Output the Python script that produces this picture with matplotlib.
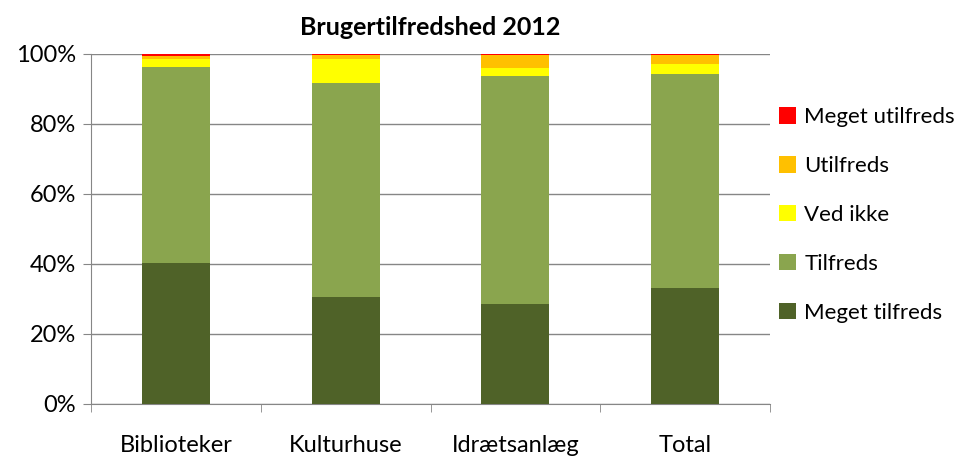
import numpy as np
import matplotlib.pyplot as plt
from matplotlib.ticker import PercentFormatter

categories = ["Biblioteker", "Kulturhuse", "Idrætsanlæg", "Total"]
meget_tilfreds = [40.3, 30.6, 28.6, 33.1]
tilfreds = [56.1, 61.0, 65.1, 61.3]
ved_ikke = [2.2, 6.9, 2.3, 2.7]
utilfreds = [0.9, 1.2, 3.7, 2.6]
meget_utilfreds = [0.5, 0.3, 0.3, 0.3]

series = [
    ("Meget tilfreds", meget_tilfreds, "#4F6228"),
    ("Tilfreds", tilfreds, "#8AA54E"),
    ("Ved ikke", ved_ikke, "#FFFF00"),
    ("Utilfreds", utilfreds, "#FFC000"),
    ("Meget utilfreds", meget_utilfreds, "#FF0000"),
]

plt.rcParams['font.family'] = ['Lato', 'DejaVu Sans']

fig = plt.figure(figsize=(9.74, 4.59), dpi=100)
ax = fig.add_axes([91 / 974, 55 / 459, 679 / 974, 350 / 459])

x = np.arange(len(categories))
bottom = np.zeros(len(categories))
handles = []
for name, vals, color in series:
    b = ax.bar(x, vals, width=0.4, bottom=bottom, color=color, label=name, zorder=3)
    handles.append(b)
    bottom += np.array(vals)

ax.set_xlim(-0.5, len(categories) - 0.5)
ax.set_ylim(0, 100)
ax.set_yticks(np.arange(0, 101, 20))
ax.yaxis.set_major_formatter(PercentFormatter(decimals=0))
ax.grid(axis='y', color='#868686', linewidth=1, zorder=0)

ax.set_xticks(x)
ax.set_xticklabels(categories)
ax.set_xticks(np.arange(-0.5, len(categories), 1), minor=True)
ax.tick_params(axis='x', which='major', length=0, pad=22, labelsize=17)
ax.tick_params(axis='x', which='minor', length=6, color='#868686', direction='out')
ax.tick_params(axis='y', length=6, color='#868686', labelsize=17, pad=5)

for side in ['top', 'right']:
    ax.spines[side].set_visible(False)
for side in ['left', 'bottom']:
    ax.spines[side].set_color('#868686')

ax.set_title("Brugertilfredshed 2012", fontsize=18, fontweight='bold', pad=14)

ax.legend(handles[::-1], [s[0] for s in series][::-1], loc='center left',
          bbox_to_anchor=(1.0, 0.54), frameon=False, fontsize=16,
          handlelength=0.75, handleheight=0.75, labelspacing=1.3, handletextpad=0.4,
          borderaxespad=0.0)

fig.savefig("out.png", dpi=100)
